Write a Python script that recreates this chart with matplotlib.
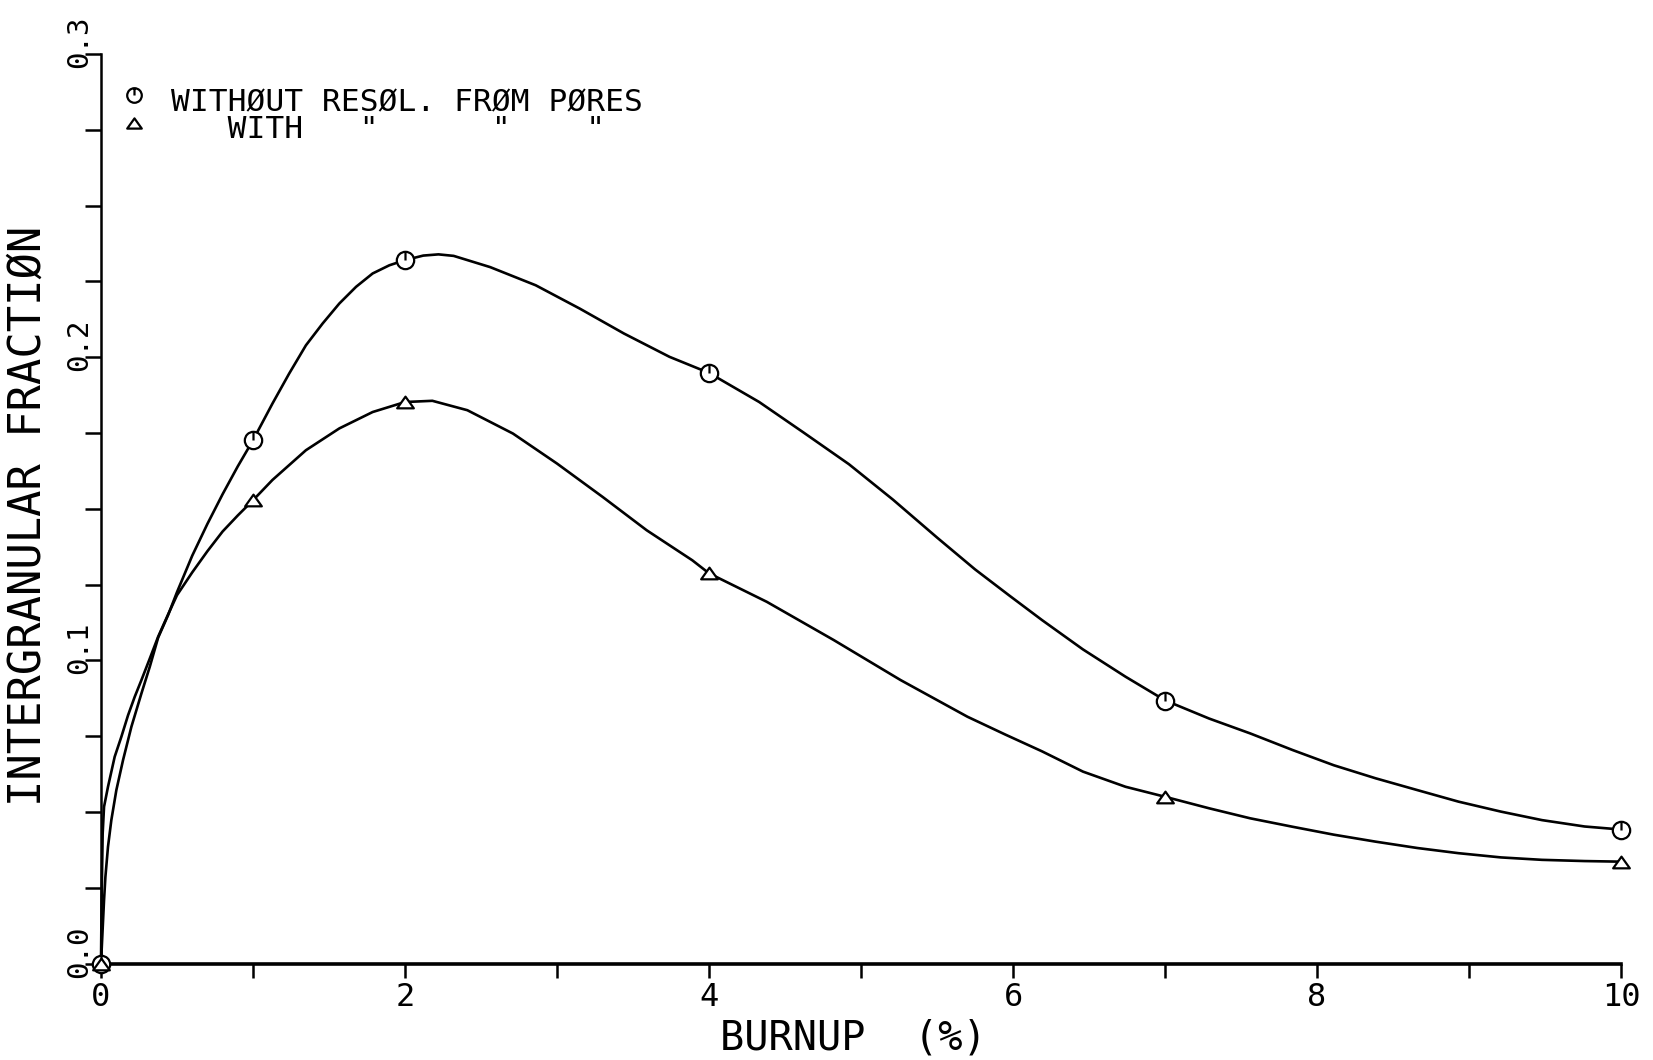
import matplotlib
matplotlib.use("Agg")
import matplotlib.pyplot as plt
from matplotlib.path import Path
from matplotlib.lines import Line2D
from matplotlib.transforms import ScaledTranslation

plt.rcParams['font.family'] = ['DejaVu Sans Mono']

# Marker points (burnup %, intergranular fraction)
burnup = [0, 1, 2, 4, 7, 10]
frac_without = [0.0, 0.1726, 0.2320, 0.1948, 0.0866, 0.0442]
frac_with = [0.0, 0.1528, 0.1852, 0.1287, 0.0550, 0.0336]

# Drawn curves
curve_without_x = [0.0, 0.02, 0.029, 0.046, 0.068, 0.101, 0.145, 0.20, 0.266, 0.321, 0.376,
                   0.442, 0.5, 0.6, 0.7, 0.8, 0.9, 1.0, 1.128, 1.238, 1.348, 1.458, 1.568,
                   1.678, 1.787, 1.897, 2.0, 2.12, 2.22, 2.32, 2.56, 2.86, 3.15, 3.44, 3.74,
                   4.0, 4.33, 4.62, 4.92, 5.21, 5.5, 5.75, 5.98, 6.19, 6.46, 6.74, 7.0, 7.29,
                   7.56, 7.84, 8.11, 8.385, 8.66, 8.93, 9.21, 9.48, 9.76, 10.0]
curve_without_y = [0.0, 0.0209, 0.0286, 0.0385, 0.0473, 0.0572, 0.0671, 0.0781, 0.0891, 0.0979,
                   0.1075, 0.1150, 0.1225, 0.1345, 0.1450, 0.1548, 0.1640, 0.1726, 0.1847,
                   0.1946, 0.2039, 0.2111, 0.2177, 0.2232, 0.2276, 0.2303, 0.2320, 0.2335,
                   0.2339, 0.2334, 0.2297, 0.2237, 0.2160, 0.2078, 0.2001, 0.1948, 0.1852,
                   0.1752, 0.1647, 0.1530, 0.1405, 0.1300, 0.1212, 0.1133, 0.1036, 0.0946,
                   0.0868, 0.0808, 0.0759, 0.0704, 0.0654, 0.0611, 0.0572, 0.0534, 0.0501,
                   0.0473, 0.0452, 0.0442]

curve_with_x = [0.0, 0.004, 0.011, 0.02, 0.046, 0.090, 0.134, 0.178, 0.222, 0.266, 0.321,
                0.376, 0.442, 0.5, 0.6, 0.7, 0.8, 0.9, 1.0, 1.128, 1.348, 1.568, 1.787, 2.0,
                2.18, 2.41, 2.71, 3.0, 3.3, 3.59, 3.89, 4.0, 4.38, 4.82, 5.26, 5.70, 5.95,
                6.19, 6.46, 6.74, 7.0, 7.29, 7.56, 7.84, 8.11, 8.385, 8.66, 8.93, 9.21, 9.48,
                9.76, 10.0]
curve_with_y = [0.0, 0.0209, 0.0429, 0.0517, 0.0583, 0.0682, 0.0748, 0.0819, 0.0880, 0.0935,
                0.1006, 0.1078, 0.1152, 0.1215, 0.1290, 0.1360, 0.1425, 0.1478, 0.1528,
                0.1595, 0.1693, 0.1765, 0.1819, 0.1852, 0.1856, 0.1825, 0.1748, 0.1649,
                0.1539, 0.1429, 0.1330, 0.1287, 0.1193, 0.1067, 0.0935, 0.0814, 0.0755,
                0.0700, 0.0633, 0.0583, 0.0550, 0.0512, 0.0479, 0.0451, 0.0425, 0.0402,
                0.0381, 0.0364, 0.0350, 0.0342, 0.0338, 0.0336]

x_major = [0, 2, 4, 6, 8, 10]
x_minor = [1, 3, 5, 7, 9]
y_major = [0.0, 0.1, 0.2, 0.3]
y_minor = [0.025, 0.05, 0.075, 0.125, 0.15, 0.175, 0.225, 0.25, 0.275]
y_labels = ['0.0', '0.1', '0.2', '0.3']

legend_line1 = 'WITHØUT RESØL. FRØM PØRES'
legend_line2 = '   WITH   "      "    "'

# plotter style symbols: circle with a stroke, flat triangle
circ_marker = Path.make_compound_path(Path.unit_circle(), Path([(0, 0), (0, 1)]))
tri_marker = Path([(-1, -0.7), (1, -0.7), (0, 0.7), (-1, -0.7)],
                  [Path.MOVETO, Path.LINETO, Path.LINETO, Path.CLOSEPOLY])

fig = plt.figure(figsize=(16.53, 10.60), dpi=100)
ax = fig.add_axes([0.0611, 0.0910, 0.9196, 0.8581])

ax.plot(curve_without_x, curve_without_y, color='black', lw=1.9, clip_on=False)
ax.plot(curve_with_x, curve_with_y, color='black', lw=1.9, clip_on=False)
ax.plot(burnup, frac_without, ls='none', marker=circ_marker, ms=12.5, mew=1.6,
        mec='black', mfc='white', clip_on=False, zorder=3)
ax.plot(burnup, frac_with, ls='none', marker=tri_marker, ms=12, mew=1.6,
        mec='black', mfc='white', clip_on=False, zorder=3)

ax.set_xlim(0, 10)
ax.set_ylim(0, 0.3)
ax.spines['top'].set_visible(False)
ax.spines['right'].set_visible(False)
ax.spines['bottom'].set_linewidth(2.6)
ax.spines['left'].set_linewidth(1.8)

ax.set_xticks(x_major)
ax.set_xticks(x_minor, minor=True)
ax.set_yticks(y_major)
ax.set_yticks(y_minor, minor=True)
ax.set_xticklabels([str(v) for v in x_major])
ax.set_yticklabels(y_labels, rotation=90, va='bottom')

ax.tick_params(axis='x', which='both', direction='out', length=10, width=1.8,
               labelsize=23, pad=3)
ax.tick_params(axis='y', which='both', direction='out', length=11.5, width=1.8,
               labelsize=21, pad=-5.5)

# the plotter starts each y label a little below its tick
shift = ScaledTranslation(0, -0.14, fig.dpi_scale_trans)
for lab in ax.get_yticklabels():
    lab.set_transform(lab.get_transform() + shift)

ax.set_xlabel('BURNUP  (%)', fontsize=29, va='baseline', ha='center')
ax.xaxis.set_label_coords(0.4947, -0.0943)
ax.set_ylabel('INTERGRANULAR FRACTIØN', fontsize=31.5, va='center', ha='center')
ax.yaxis.set_label_coords(-0.0477, 0.4926)

# legend block, drawn as on the plotter
fig.add_artist(Line2D([0.0811], [0.9104], ls='none', marker=circ_marker, ms=10.5, mew=1.6,
                      mec='black', mfc='white', transform=fig.transFigure))
fig.add_artist(Line2D([0.0811], [0.8840], ls='none', marker=tri_marker, ms=10.5, mew=1.6,
                      mec='black', mfc='white', transform=fig.transFigure))
fig.text(0.1035, 0.8953, legend_line1, fontsize=22.5, va='baseline', ha='left')
fig.text(0.1035, 0.8698, legend_line2, fontsize=22.5, va='baseline', ha='left')

fig.savefig('out.png', dpi=100, facecolor='white')
